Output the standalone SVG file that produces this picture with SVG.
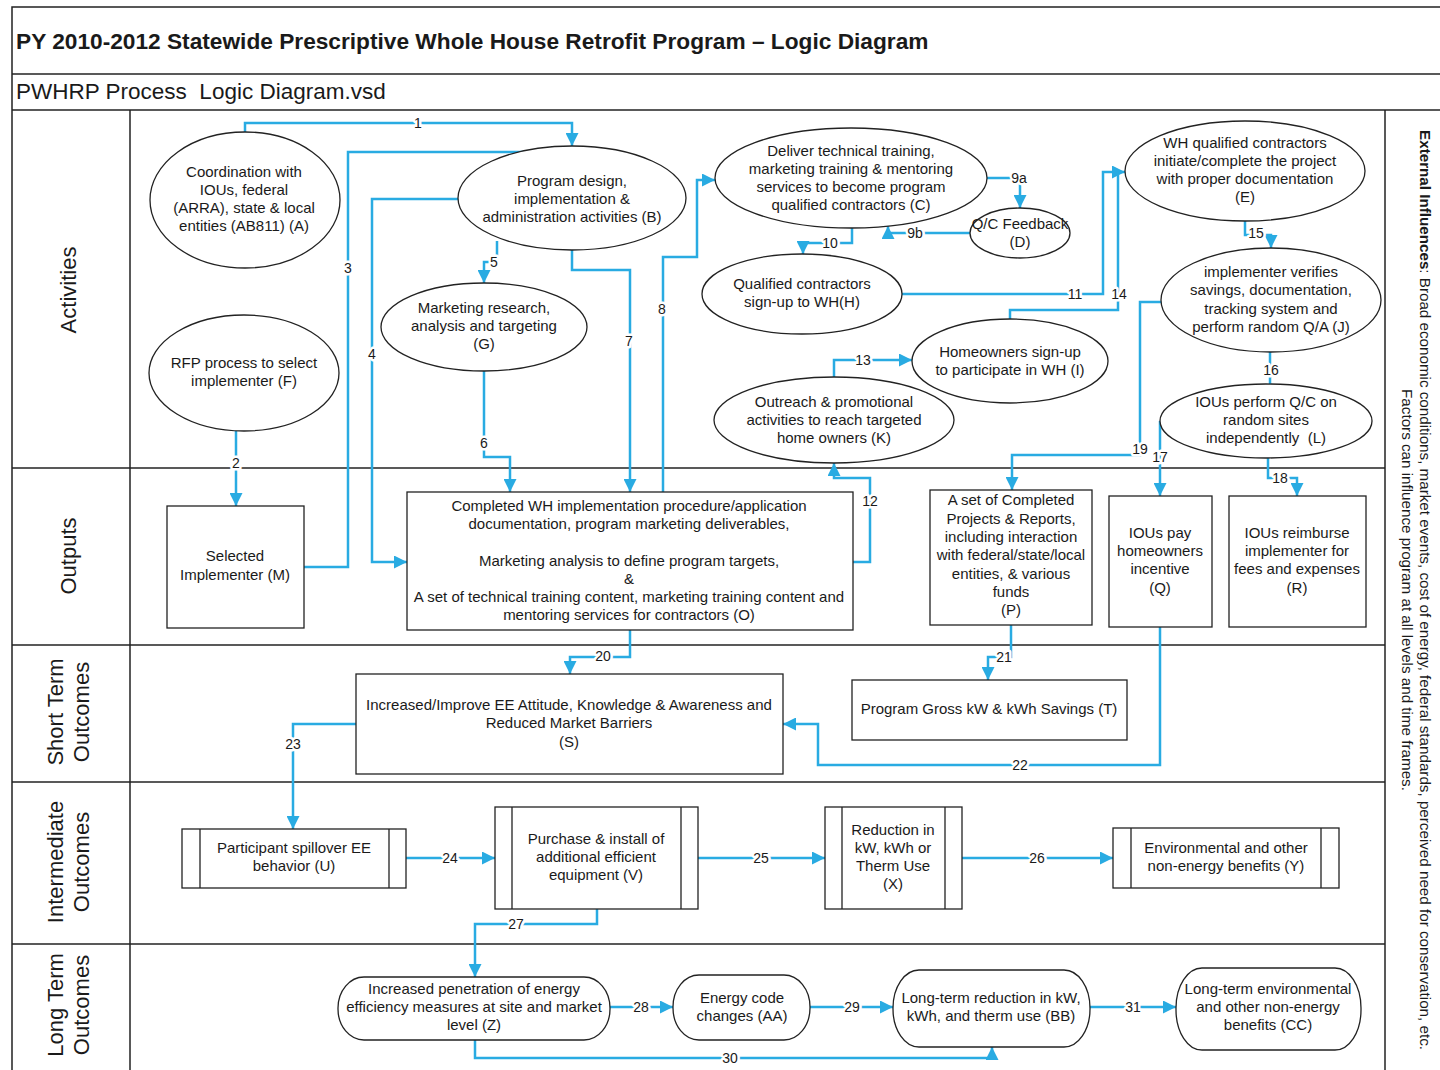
<svg xmlns="http://www.w3.org/2000/svg" width="1440" height="1070" viewBox="0 0 1440 1070">
<style>
text{font-family:"Liberation Sans",Arial,sans-serif;fill:#1a1a1a}
.t{font-size:15px;text-anchor:middle}
.n{fill:#fff;stroke:#222;stroke-width:1.3}
.frame{stroke:#222;stroke-width:1.5;fill:none}
.lane{stroke:#222;stroke-width:1.5}
.c{fill:none;stroke:#29abe2;stroke-width:2.5;marker-end:url(#ah)}
.c0{fill:none;stroke:#29abe2;stroke-width:2.5}
.lbl{font-size:14px;text-anchor:middle;stroke:#fff;stroke-width:5;paint-order:stroke;stroke-linejoin:round}
.ll{font-size:22px;text-anchor:middle}
</style>
<defs>
<marker id="ah" viewBox="0 0 10 10" refX="10" refY="5" markerWidth="13" markerHeight="13" markerUnits="userSpaceOnUse" orient="auto"><path d="M0,0 L10,5 L0,10 z" fill="#29abe2"/></marker>
</defs>
<rect width="1440" height="1070" fill="#fff"/>
<g id="frame">
<path class="frame" d="M1440,7 H12 V1070"/>
<line class="lane" x1="12" y1="74" x2="1440" y2="74"/>
<line class="lane" x1="12" y1="110" x2="1440" y2="110"/>
<line class="lane" x1="130" y1="110" x2="130" y2="1070" stroke="#555"/>
<line class="lane" x1="1385" y1="110" x2="1385" y2="1070" stroke="#555"/>
<line class="lane" x1="12" y1="468" x2="1385" y2="468"/>
<line class="lane" x1="12" y1="645" x2="1385" y2="645"/>
<line class="lane" x1="12" y1="782" x2="1385" y2="782"/>
<line class="lane" x1="12" y1="944" x2="1385" y2="944"/>
<text x="16" y="49" font-size="22.7" font-weight="bold">PY 2010-2012 Statewide Prescriptive Whole House Retrofit Program – Logic Diagram</text>
<text x="16" y="99" font-size="22.5" style="white-space:pre">PWHRP Process  Logic Diagram.vsd</text>
<text class="ll" transform="translate(76,290) rotate(-90)">Activities</text>
<text class="ll" transform="translate(76,556) rotate(-90)">Outputs</text>
<text class="ll" transform="translate(63,712) rotate(-90)">Short Term</text>
<text class="ll" transform="translate(89,712) rotate(-90)">Outcomes</text>
<text class="ll" transform="translate(63,862) rotate(-90)">Intermediate</text>
<text class="ll" transform="translate(89,862) rotate(-90)">Outcomes</text>
<text class="ll" transform="translate(63,1005) rotate(-90)">Long Term</text>
<text class="ll" transform="translate(89,1005) rotate(-90)">Outcomes</text>
<text font-size="15.2" text-anchor="middle" transform="translate(1420,590) rotate(90)"><tspan font-weight="bold">External Influences</tspan>: Broad economic conditions, market events, cost of energy, federal standards, perceived need for conservation, etc.</text>
<text font-size="15.2" text-anchor="middle" transform="translate(1402,590) rotate(90)">Factors can influence program at all levels and time frames.</text>
</g>
<g id="connectors">
<path class="c" d="M245,133 V123 H572 V146"/>
<path class="c" d="M236,431 V506"/>
<path class="c" d="M304,567 H348 V152 H564"/>
<path class="c" d="M459,199 H372 V562 H407"/>
<path class="c" d="M497,241 V262 H484 V283"/>
<path class="c" d="M484,371 V457 H510 V492"/>
<path class="c" d="M572,250 V270 H630 V492"/>
<path class="c" d="M663,492 V257 H697 V180 H715"/>
<path class="c" d="M987,178 H1020 V208"/>
<path class="c" d="M970,233 H888 V226"/>
<path class="c" d="M852,228 V243 H803 V254"/>
<path class="c" d="M902,294 H1103 V172 H1125"/>
<path class="c0" d="M1010,319 V310 H1118 V172"/>
<path class="c" d="M853,562 H870 V478 H834 V463"/>
<path class="c" d="M834,377 V360 H912"/>
<path class="c" d="M1245,221 V235 H1271 V248"/>
<path class="c0" d="M1270,352 V384" stroke-width="1.5"/>
<path class="c" d="M1160,421 V496"/>
<path class="c" d="M1268,458 V478 H1297 V496"/>
<path class="c" d="M1161,302 H1140 V455 H1012 V490"/>
<path class="c" d="M630,630 V657 H570 V674"/>
<path class="c" d="M1011,625 V657 H988 V680"/>
<path class="c" d="M1160,627 V765 H818 V724 H783"/>
<path class="c" d="M356,724 H293 V829"/>
<path class="c" d="M406,858 H495"/>
<path class="c" d="M698,858 H825"/>
<path class="c" d="M962,858 H1113"/>
<path class="c" d="M597,909 V924 H475 V977"/>
<path class="c" d="M610,1007 H673"/>
<path class="c" d="M810,1007 H893"/>
<path class="c" d="M475,1040 V1058 H992 V1047"/>
<path class="c" d="M1090,1007 H1176"/>
<text class="lbl" x="418" y="128">1</text>
<text class="lbl" x="236" y="468">2</text>
<text class="lbl" x="348" y="273">3</text>
<text class="lbl" x="372" y="359">4</text>
<text class="lbl" x="494" y="267">5</text>
<text class="lbl" x="484" y="448">6</text>
<text class="lbl" x="629" y="346">7</text>
<text class="lbl" x="662" y="314">8</text>
<text class="lbl" x="1019" y="183">9a</text>
<text class="lbl" x="915" y="238">9b</text>
<text class="lbl" x="830" y="248">10</text>
<text class="lbl" x="1075" y="299">11</text>
<text class="lbl" x="870" y="506">12</text>
<text class="lbl" x="863" y="365">13</text>
<text class="lbl" x="1119" y="299">14</text>
<text class="lbl" x="1256" y="238">15</text>
<text class="lbl" x="1271" y="375">16</text>
<text class="lbl" x="1160" y="462">17</text>
<text class="lbl" x="1280" y="483">18</text>
<text class="lbl" x="1140" y="454">19</text>
<text class="lbl" x="603" y="661">20</text>
<text class="lbl" x="1004" y="662">21</text>
<text class="lbl" x="1020" y="770">22</text>
<text class="lbl" x="293" y="749">23</text>
<text class="lbl" x="450" y="863">24</text>
<text class="lbl" x="761" y="863">25</text>
<text class="lbl" x="1037" y="863">26</text>
<text class="lbl" x="516" y="929">27</text>
<text class="lbl" x="641" y="1012">28</text>
<text class="lbl" x="852" y="1012">29</text>
<text class="lbl" x="730" y="1063">30</text>
<text class="lbl" x="1133" y="1012">31</text>
</g>
<g id="A"><ellipse class="n" cx="245" cy="200" rx="95" ry="68"/><text class="t"><tspan x="244" y="177">Coordination with</tspan><tspan x="244" y="195">IOUs, federal</tspan><tspan x="244" y="213">(ARRA), state &amp; local</tspan><tspan x="244" y="231">entities (AB811) (A)</tspan></text></g>
<g id="B"><ellipse class="n" cx="572" cy="198" rx="114" ry="52"/><text class="t"><tspan x="572" y="186">Program design,</tspan><tspan x="572" y="204">implementation &amp;</tspan><tspan x="572" y="222">administration activities (B)</tspan></text></g>
<g id="C"><ellipse class="n" cx="851" cy="178" rx="136" ry="50"/><text class="t"><tspan x="851" y="156">Deliver technical training,</tspan><tspan x="851" y="174">marketing training &amp; mentoring</tspan><tspan x="851" y="192">services to become program</tspan><tspan x="851" y="210">qualified contractors (C)</tspan></text></g>
<g id="D"><ellipse class="n" cx="1020" cy="233" rx="50" ry="25"/><text class="t"><tspan x="1020" y="229">Q/C Feedback</tspan><tspan x="1020" y="247">(D)</tspan></text></g>
<g id="E"><ellipse class="n" cx="1245" cy="171" rx="120" ry="50"/><text class="t"><tspan x="1245" y="148">WH qualified contractors</tspan><tspan x="1245" y="166">initiate/complete the project</tspan><tspan x="1245" y="184">with proper documentation</tspan><tspan x="1245" y="202">(E)</tspan></text></g>
<g id="F"><ellipse class="n" cx="244" cy="373" rx="95" ry="58"/><text class="t"><tspan x="244" y="368">RFP process to select</tspan><tspan x="244" y="386">implementer (F)</tspan></text></g>
<g id="G"><ellipse class="n" cx="484" cy="327" rx="103" ry="44"/><text class="t"><tspan x="484" y="313">Marketing research,</tspan><tspan x="484" y="331">analysis and targeting</tspan><tspan x="484" y="349">(G)</tspan></text></g>
<g id="H"><ellipse class="n" cx="802" cy="294" rx="100" ry="40"/><text class="t"><tspan x="802" y="289">Qualified contractors</tspan><tspan x="802" y="307">sign-up to WH(H)</tspan></text></g>
<g id="I"><ellipse class="n" cx="1010" cy="361" rx="98" ry="42"/><text class="t"><tspan x="1010" y="357">Homeowners sign-up</tspan><tspan x="1010" y="375">to participate in WH (I)</tspan></text></g>
<g id="J"><ellipse class="n" cx="1271" cy="300" rx="110" ry="52"/><text class="t"><tspan x="1271" y="277">implementer verifies</tspan><tspan x="1271" y="295">savings, documentation,</tspan><tspan x="1271" y="314">tracking system and</tspan><tspan x="1271" y="332">perform random Q/A (J)</tspan></text></g>
<g id="K"><ellipse class="n" cx="834" cy="420" rx="120" ry="43"/><text class="t"><tspan x="834" y="407">Outreach &amp; promotional</tspan><tspan x="834" y="425">activities to reach targeted</tspan><tspan x="834" y="443">home owners (K)</tspan></text></g>
<g id="L"><ellipse class="n" cx="1266" cy="421" rx="106" ry="37"/><text class="t"><tspan x="1266" y="407">IOUs perform Q/C on</tspan><tspan x="1266" y="425">random sites</tspan><tspan x="1266" y="443" style="white-space:pre">independently  (L)</tspan></text></g>
<g id="M"><rect class="n" x="167" y="506" width="137" height="122"/><text class="t"><tspan x="235" y="561">Selected</tspan><tspan x="235" y="580">Implementer (M)</tspan></text></g>
<g id="O"><rect class="n" x="407" y="492" width="446" height="138"/><text class="t"><tspan x="629" y="511">Completed WH implementation procedure/application</tspan><tspan x="629" y="529">documentation, program marketing deliverables,</tspan><tspan x="629" y="566">Marketing analysis to define program targets,</tspan><tspan x="629" y="584">&amp;</tspan><tspan x="629" y="602">A set of technical training content, marketing training content and</tspan><tspan x="629" y="620">mentoring services for contractors (O)</tspan></text></g>
<g id="P"><rect class="n" x="930" y="490" width="162" height="135"/><text class="t"><tspan x="1011" y="505">A set of Completed</tspan><tspan x="1011" y="524">Projects &amp; Reports,</tspan><tspan x="1011" y="542">including interaction</tspan><tspan x="1011" y="560">with federal/state/local</tspan><tspan x="1011" y="579">entities, &amp; various</tspan><tspan x="1011" y="597">funds</tspan><tspan x="1011" y="615">(P)</tspan></text></g>
<g id="Q"><rect class="n" x="1109" y="496" width="103" height="131"/><text class="t"><tspan x="1160" y="538">IOUs pay</tspan><tspan x="1160" y="556">homeowners</tspan><tspan x="1160" y="574">incentive</tspan><tspan x="1160" y="593">(Q)</tspan></text></g>
<g id="R"><rect class="n" x="1229" y="496" width="137" height="131"/><text class="t"><tspan x="1297" y="538">IOUs reimburse</tspan><tspan x="1297" y="556">implementer for</tspan><tspan x="1297" y="574">fees and expenses</tspan><tspan x="1297" y="593">(R)</tspan></text></g>
<g id="S"><rect class="n" x="356" y="674" width="427" height="100"/><text class="t"><tspan x="569" y="710">Increased/Improve EE Attitude, Knowledge &amp; Awareness and</tspan><tspan x="569" y="728">Reduced Market Barriers</tspan><tspan x="569" y="747">(S)</tspan></text></g>
<g id="T"><rect class="n" x="852" y="680" width="275" height="60"/><text class="t" x="989" y="714">Program Gross kW &amp; kWh Savings (T)</text></g>
<g id="U"><rect class="n" x="182" y="829" width="224" height="59"/><path class="n" d="M200,829 V888 M389,829 V888"/><text class="t"><tspan x="294" y="853">Participant spillover EE</tspan><tspan x="294" y="871">behavior (U)</tspan></text></g>
<g id="V"><rect class="n" x="495" y="807" width="203" height="102"/><path class="n" d="M512,807 V909 M681,807 V909"/><text class="t"><tspan x="596" y="844">Purchase &amp; install of</tspan><tspan x="596" y="862">additional efficient</tspan><tspan x="596" y="880">equipment (V)</tspan></text></g>
<g id="X"><rect class="n" x="825" y="807" width="137" height="102"/><path class="n" d="M842,807 V909 M945,807 V909"/><text class="t"><tspan x="893" y="835">Reduction in</tspan><tspan x="893" y="853">kW, kWh or</tspan><tspan x="893" y="871">Therm Use</tspan><tspan x="893" y="889">(X)</tspan></text></g>
<g id="Y"><rect class="n" x="1113" y="828" width="226" height="60"/><path class="n" d="M1131,828 V888 M1321,828 V888"/><text class="t"><tspan x="1226" y="853">Environmental and other</tspan><tspan x="1226" y="871">non-energy benefits (Y)</tspan></text></g>
<g id="Z"><rect class="n" x="338" y="977" width="272" height="63" rx="26" ry="31"/><text class="t"><tspan x="474" y="994">Increased penetration of energy</tspan><tspan x="474" y="1012">efficiency measures at site and market</tspan><tspan x="474" y="1030">level (Z)</tspan></text></g>
<g id="AA"><rect class="n" x="673" y="975" width="137" height="65" rx="26" ry="32"/><text class="t"><tspan x="742" y="1003">Energy code</tspan><tspan x="742" y="1021">changes (AA)</tspan></text></g>
<g id="BB"><rect class="n" x="893" y="970" width="197" height="77" rx="26" ry="38"/><text class="t"><tspan x="991" y="1003">Long-term reduction in kW,</tspan><tspan x="991" y="1021">kWh, and therm use (BB)</tspan></text></g>
<g id="CC"><rect class="n" x="1176" y="968" width="185" height="82" rx="26" ry="40"/><text class="t"><tspan x="1268" y="994">Long-term environmental</tspan><tspan x="1268" y="1012">and other non-energy</tspan><tspan x="1268" y="1030">benefits (CC)</tspan></text></g>
</svg>
